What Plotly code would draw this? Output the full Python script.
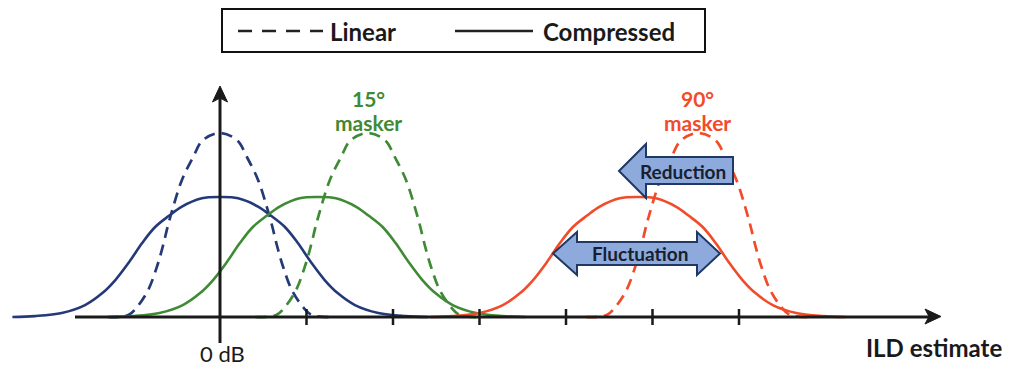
import plotly.graph_objects as go

# ---- data ----
# half-profiles (offset from curve centre in tick units, relative height)
linear_dx = [0.0, 0.20, 0.31, 0.44, 0.54, 0.60, 0.66, 0.73, 0.83, 0.96, 1.06, 1.30]
linear_h = [1.00, 0.96, 0.87, 0.745, 0.60, 0.50, 0.386, 0.272, 0.147, 0.054, 0.011, 0.0]
compressed_dx = [0.0, 0.21, 0.44, 0.59, 0.75, 0.90, 1.05, 1.21, 1.36, 1.56, 1.83, 2.14, 2.40]
compressed_h = [0.652, 0.645, 0.60, 0.55, 0.489, 0.402, 0.299, 0.201, 0.130, 0.065, 0.022, 0.005, 0.0]

conditions = ["0 dB", "15° masker", "90° masker"]
linear_centres = [0.0, 1.71, 5.53]
compressed_centres = [0.0, 1.13, 4.83]
colors = ["#243a78", "#3f8a35", "#f24b2a"]
tick_positions = [1, 2, 3, 4, 5, 6]

# ---- pixel helpers for decorations ----
PX0, PXU = 220.0, 86.5
PY0, PYU = 317.0, 184.0


def X(px):
    return (px - PX0) / PXU


def Y(py):
    return (PY0 - py) / PYU


def path(points):
    return "M " + " L ".join(f"{X(a):.4f},{Y(b):.4f}" for a, b in points) + " Z"


def full_curve(centre, dx, h):
    xs = [centre - d for d in reversed(dx[1:])] + [centre + d for d in dx]
    ys = list(reversed(h[1:])) + list(h)
    return xs, ys


fig = go.Figure()
for i, name in enumerate(conditions):
    xs, ys = full_curve(compressed_centres[i], compressed_dx, compressed_h)
    fig.add_trace(go.Scatter(x=xs, y=ys, mode="lines", name=name + " compressed",
                             line=dict(color=colors[i], width=2.6, shape="spline"),
                             showlegend=False, hoverinfo="skip"))
    xs, ys = full_curve(linear_centres[i], linear_dx, linear_h)
    fig.add_trace(go.Scatter(x=xs, y=ys, mode="lines", name=name + " linear",
                             line=dict(color=colors[i], width=2.7, shape="spline", dash="11px,7px"),
                             showlegend=False, hoverinfo="skip"))

shapes = []
AX = "#1a1a1a"
# horizontal axis
shapes.append(dict(type="line", x0=X(75), x1=X(930), y0=0, y1=0, line=dict(color=AX, width=3), layer="above"))
shapes.append(dict(type="path", path=path([(941, 316.5), (925, 309), (929, 316.5), (925, 324)]),
                   fillcolor=AX, line=dict(color=AX, width=1), layer="above"))
# vertical axis
shapes.append(dict(type="line", x0=0, x1=0, y0=Y(343), y1=Y(97), line=dict(color=AX, width=3), layer="above"))
shapes.append(dict(type="path", path=path([(220, 86), (212.5, 102), (220, 98), (227.5, 102)]),
                   fillcolor=AX, line=dict(color=AX, width=1), layer="above"))
# ticks
for t in tick_positions:
    shapes.append(dict(type="line", x0=t, x1=t, y0=Y(309), y1=Y(325), line=dict(color=AX, width=2.5), layer="above"))

# block arrows
ARROW_FILL = "#8eaadd"
ARROW_LINE = "#1f3864"
shapes.append(dict(type="path",
                   path=path([(619, 171), (646, 144), (646, 157), (733, 157), (733, 184), (646, 184), (646, 198)]),
                   fillcolor=ARROW_FILL, line=dict(color=ARROW_LINE, width=2), layer="above"))
shapes.append(dict(type="path",
                   path=path([(553, 253.5), (577, 232), (577, 242), (697, 242), (697, 232), (720, 253.5),
                              (697, 275), (697, 265), (577, 265), (577, 275)]),
                   fillcolor=ARROW_FILL, line=dict(color=ARROW_LINE, width=2), layer="above"))

# legend box
shapes.append(dict(type="rect", x0=X(222), x1=X(705), y0=Y(9), y1=Y(52),
                   line=dict(color="#111111", width=2), fillcolor="white", layer="above"))
shapes.append(dict(type="line", x0=X(238), x1=X(323), y0=Y(31), y1=Y(31),
                   line=dict(color="#222222", width=2.5, dash="14px,10px"), layer="above"))
shapes.append(dict(type="line", x0=X(455), x1=X(533), y0=Y(31), y1=Y(31),
                   line=dict(color="#222222", width=2.5), layer="above"))

FONT = "Lato, 'Open Sans', sans-serif"
ann = []


def text(px, py, s, size, color, bold=True, xanchor="center"):
    ann.append(dict(x=X(px), y=Y(py), text=f"<b>{s}</b>" if bold else s, showarrow=False,
                    xanchor=xanchor, yanchor="middle",
                    font=dict(family=FONT, size=size, color=color)))


text(328, 31, "Linear", 24, "#1a1a1a", xanchor="left")
text(541, 31, "Compressed", 24, "#1a1a1a", xanchor="left")
text(368, 98, "15°", 21, colors[1])
text(368, 122, "masker", 21, colors[1])
text(697, 98, "90°", 21, colors[2])
text(697, 122, "masker", 21, colors[2])
text(683, 171, "Reduction", 19, "#17202e")
text(640, 253, "Fluctuation", 19, "#17202e")
text(222, 353, "0 dB", 22, "#1a1a1a", bold=False)
text(1004, 347, "ILD estimate", 24, "#1a1a1a", xanchor="right")

fig.update_layout(
    width=1014, height=373, margin=dict(l=0, r=0, t=0, b=0),
    paper_bgcolor="white", plot_bgcolor="white",
    xaxis=dict(range=[X(0), X(1014)], visible=False, fixedrange=True),
    yaxis=dict(range=[Y(373), Y(0)], visible=False, fixedrange=True),
    shapes=shapes, annotations=ann, showlegend=False,
)

fig.write_html("out.html")
